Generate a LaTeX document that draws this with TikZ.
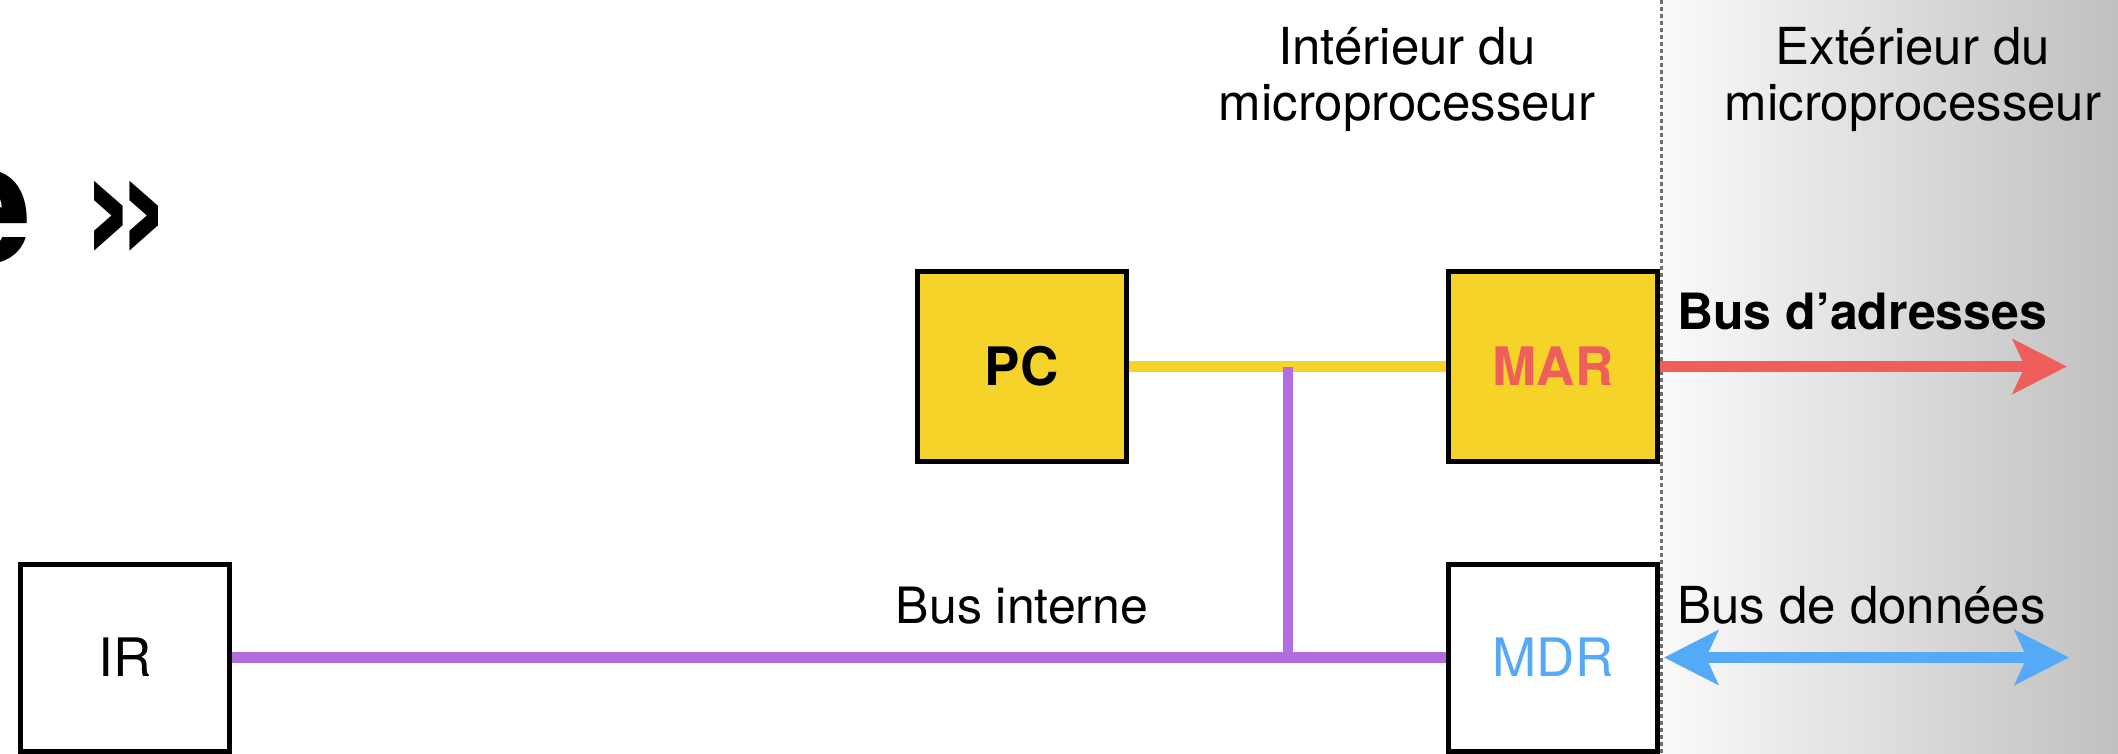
\documentclass[tikz,border=0pt]{standalone}
\usepackage{fontspec}
\setmainfont{TeX Gyre Heros}
\usetikzlibrary{arrows.meta}

\definecolor{regyellow}{HTML}{F5D328}
\definecolor{busred}{HTML}{EE5F5B}
\definecolor{buspurple}{HTML}{B36BE0}
\definecolor{busblue}{HTML}{55AAF7}
\definecolor{outlight}{HTML}{FAFAFA}
\definecolor{outdark}{HTML}{C0C0C0}
\definecolor{sepgray}{HTML}{707070}

\begin{document}
\begin{tikzpicture}[x=1pt,y=-1pt,
  reg/.style={draw=black,line width=5pt,minimum width=209pt,inner sep=0pt,
              font=\fontsize{53}{60}\selectfont},
  upper/.style={reg,minimum height=190pt},
  lower/.style={reg,minimum height=187pt},
  lbl/.style={inner sep=0pt,font=\fontsize{50}{60}\selectfont},
  toplbl/.style={inner sep=0pt,font=\fontsize{51}{60}\selectfont,anchor=base},
  bus/.style={line width=11pt},
  >={Stealth[length=54pt,width=54pt,inset=12pt]}
]
\useasboundingbox (0,0) rectangle (2118,754);
\clip (0,0) rectangle (2118,754);

% outside of the processor: shaded band
\shade[left color=outlight,right color=outdark] (1661,0) rectangle (2118,754);

% title fragment
\node[anchor=base west,inner sep=0pt,font=\fontsize{171}{180}\selectfont\bfseries]
  (title) at (-63,263) {e »};

% region captions
\node[toplbl] (int1) at (1407,65) {Intérieur du};
\node[toplbl] (int2) at (1407,121) {microprocesseur};
\node[toplbl] (ext1) at (1913,65) {Extérieur du};
\node[toplbl] (ext2) at (1913,121) {microprocesseur};

% registers
\node[upper,fill=regyellow,font=\fontsize{53}{60}\selectfont\bfseries] (pc) at (1021.5,366.5) {PC};
\node[upper,fill=regyellow,text=busred,font=\fontsize{53}{60}\selectfont\bfseries] (mar) at (1553,366.5) {MAR};
\node[lower,fill=white,text=busblue] (mdr) at (1553,657.5) {MDR};
\node[lower,fill=white] (ir) at (125,657.5) {IR};

% internal buses
\coordinate (tap) at (1288,367);
\coordinate (join) at (1288,657.5);
\draw[bus,regyellow] (pc.east) -- (mar.west);
\draw[bus,buspurple] (ir.east) -- (mdr.west);
\draw[buspurple,line width=10pt] (tap) -- (join);
\node[lbl,anchor=base] (bint) at (1022,623) {Bus interne};

% boundary of the processor
\coordinate (septop) at (1661.5,0);
\coordinate (sepbot) at (1661.5,754);
\draw[sepgray,line width=2.5pt,dash pattern=on 4pt off 3pt] (septop) -- (sepbot);

% external buses
\coordinate (adrend) at (2067,366.5);
\coordinate (donend) at (2069,657.5);
\draw[bus,busred,->] (mar.east) -- (adrend);
\draw[bus,busblue,<->] ([xshift=4pt]mdr.east) -- (donend);
\node[lbl,anchor=base west,font=\fontsize{50}{60}\selectfont\bfseries] (adr) at (1677,329) {Bus d’adresses};
\node[lbl,anchor=base west,font=\fontsize{51}{60}\selectfont] (don) at (1677,623) {Bus de données};
\end{tikzpicture}
\end{document}
